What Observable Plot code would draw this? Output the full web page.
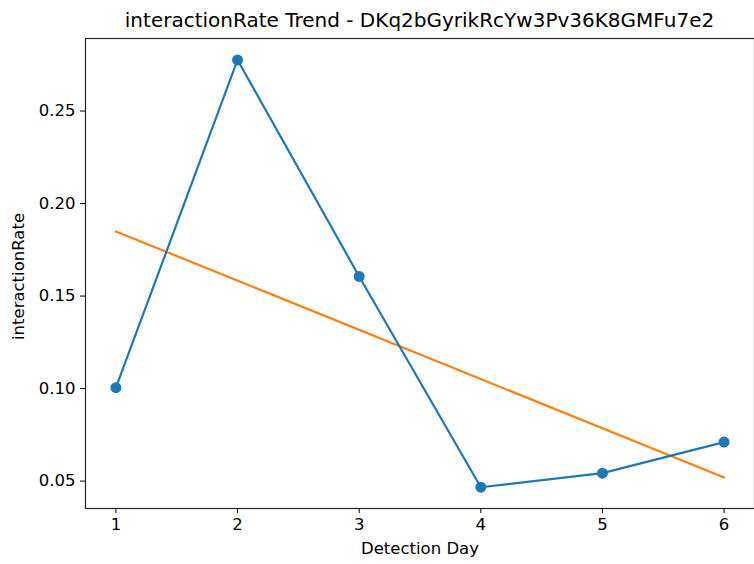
<!DOCTYPE html>
<html>
<head>
<meta charset="utf-8">
<script src="https://cdn.jsdelivr.net/npm/d3@7"></script>
<script src="https://cdn.jsdelivr.net/npm/@observablehq/plot@0.6"></script>
<style>
  html, body { margin: 0; padding: 0; background: #fff; overflow: hidden; }
  #chart { position: relative; width: 754px; height: 564px; }
  #title {
    position: absolute; left: 85px; width: 669px; top: 7px;
    text-align: center; font-family: "DejaVu Sans", sans-serif;
    font-size: 20px; line-height: 26px; color: #000; white-space: nowrap;
  }
  svg { font-family: "DejaVu Sans", sans-serif; }
</style>
</head>
<body>
<div id="chart">
  <div id="title">interactionRate Trend - DKq2bGyrikRcYw3Pv36K8GMFu7e2</div>
</div>
<script>
// Daily interaction rate per detection day
const days = [1, 2, 3, 4, 5, 6];
const rates = [0.1005, 0.2776, 0.1606, 0.0467, 0.0543, 0.0711];
const yTicks = [0.05, 0.10, 0.15, 0.20, 0.25];
const xLabel = "Detection Day";
const yLabel = "interactionRate";

const data = days.map((d, i) => ({day: d, rate: rates[i]}));

const blue = "#1f77b4";
const orange = "#ff7f0e";

const chart = Plot.plot({
  width: 754,
  height: 564,
  marginLeft: 85,
  marginRight: 0,
  marginTop: 38,
  marginBottom: 56,
  style: {fontSize: "16.5px", fontFamily: "DejaVu Sans, sans-serif", color: "#000", background: "#fff"},
  x: {domain: [0.75, 6.25]},
  y: {domain: [0.0352, 0.2892]},
  marks: [
    Plot.axisX({ticks: days, tickFormat: d => String(d), tickSize: 5, tickPadding: 5, label: null, stroke: "#000", color: "#000", fontSize: 16.5}),
    Plot.axisY({ticks: yTicks, tickFormat: d3.format(".2f"), tickSize: 5, tickPadding: 5, label: null, stroke: "#000", color: "#000", fontSize: 16.5}),
    Plot.frame({stroke: "#000", strokeOpacity: 0.85, strokeWidth: 1.2}),
    // trend: least-squares fit of the daily rates
    Plot.linearRegressionY(data, {x: "day", y: "rate", ci: 0, stroke: orange, strokeWidth: 2.2}),
    Plot.line(data, {x: "day", y: "rate", stroke: blue, strokeWidth: 2.2}),
    Plot.dot(data, {x: "day", y: "rate", r: 5.5, fill: blue, stroke: "none"}),
    Plot.text([xLabel], {frameAnchor: "bottom", dy: 45, text: d => d, fontSize: 16.5, fill: "#000"}),
    Plot.text([yLabel], {frameAnchor: "left", dx: -67, dy: 3, rotate: -90, textAnchor: "middle", text: d => d, fontSize: 16.5, fill: "#000"})
  ]
});

document.getElementById("chart").appendChild(chart);
</script>
</body>
</html>
